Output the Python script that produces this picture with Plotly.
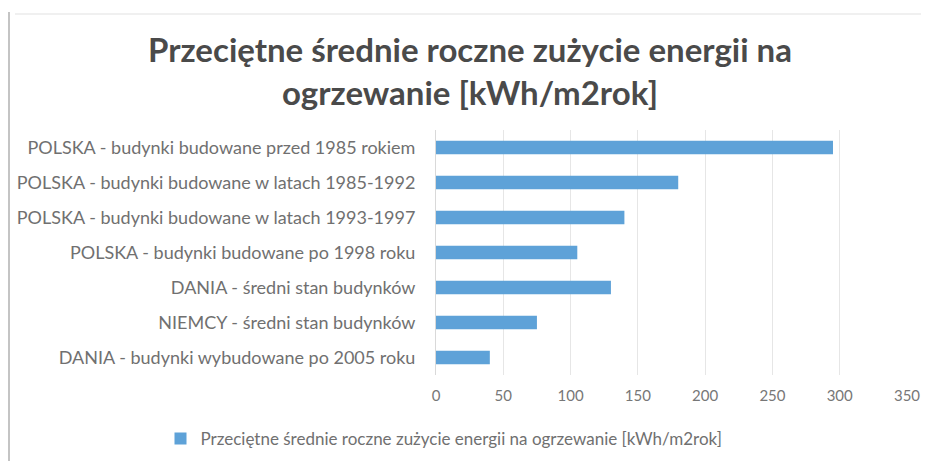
import plotly.graph_objects as go

categories = [
    "POLSKA - budynki budowane przed 1985 rokiem",
    "POLSKA - budynki budowane w latach 1985-1992",
    "POLSKA - budynki budowane w latach 1993-1997",
    "POLSKA - budynki budowane po 1998 roku",
    "DANIA - średni stan budynków",
    "NIEMCY - średni stan budynków",
    "DANIA - budynki wybudowane po 2005 roku",
]
values = [295, 180, 140, 105, 130, 75, 40]
series_name = "Przeciętne średnie roczne zużycie energii na ogrzewanie [kWh/m2rok]"
title_text = "Przeciętne średnie roczne zużycie energii na<br>ogrzewanie [kWh/m2rok]"
x_ticks = [0, 50, 100, 150, 200, 250, 300, 350]

# page body has an 8px margin: figure origin sits at (8, 8) of the window
OFF = 8
W, H = 921, 453
L = 436 - OFF
T = 130 - OFF
R = W - (907 - OFF)
B = H - (375 - OFF)
PW, PH = W - L - R, H - T - B


def px(x):
    return (x - OFF - L) / PW


def py(y):
    return 1 - (y - OFF - T) / PH


fig = go.Figure(go.Bar(
    x=values, y=categories, orientation="h", name=series_name,
    marker=dict(color="#5EA2D8", line=dict(width=0)),
    showlegend=True,
))

fig.update_layout(
    width=W, height=H,
    margin=dict(l=L, r=R, t=T, b=B, autoexpand=False),
    paper_bgcolor="white", plot_bgcolor="white",
    bargap=0.62,
    font=dict(family="Lato", color="#6b6b6b"),
    title=dict(text=title_text, x=(470 - OFF) / W, xanchor="center",
               y=1 - (62 - OFF) / H, yanchor="top",
               font=dict(family="Lato", size=33, color="#4a4a4a", weight="bold")),
    xaxis=dict(range=[0, 350], tickvals=x_ticks, showgrid=True, gridcolor="#e6e6e6",
               gridwidth=1, zeroline=False, showline=False, ticks="", automargin=False,
               tickfont=dict(size=15, color="#777777"), ticklabelstandoff=10),
    yaxis=dict(autorange="reversed", showgrid=False, showline=True, linecolor="#d9d9d9",
               ticks="", automargin=False,
               tickfont=dict(size=18, color="#707070"), ticklabelstandoff=16),
    legend=dict(orientation="h", x=px(444), xanchor="center", y=py(421),
                yanchor="top", font=dict(size=17, color="#707070"),
                itemwidth=30),
    shapes=[
        dict(type="line", xref="paper", yref="paper",
             x0=px(9), x1=px(9), y0=py(461), y1=py(12),
             line=dict(color="#b0b0b0", width=1.5)),
        dict(type="line", xref="paper", yref="paper",
             x0=px(15), x1=px(929), y0=py(14), y1=py(14),
             line=dict(color="#ebebeb", width=1.5)),
    ],
)

fig.write_html("out.html")
